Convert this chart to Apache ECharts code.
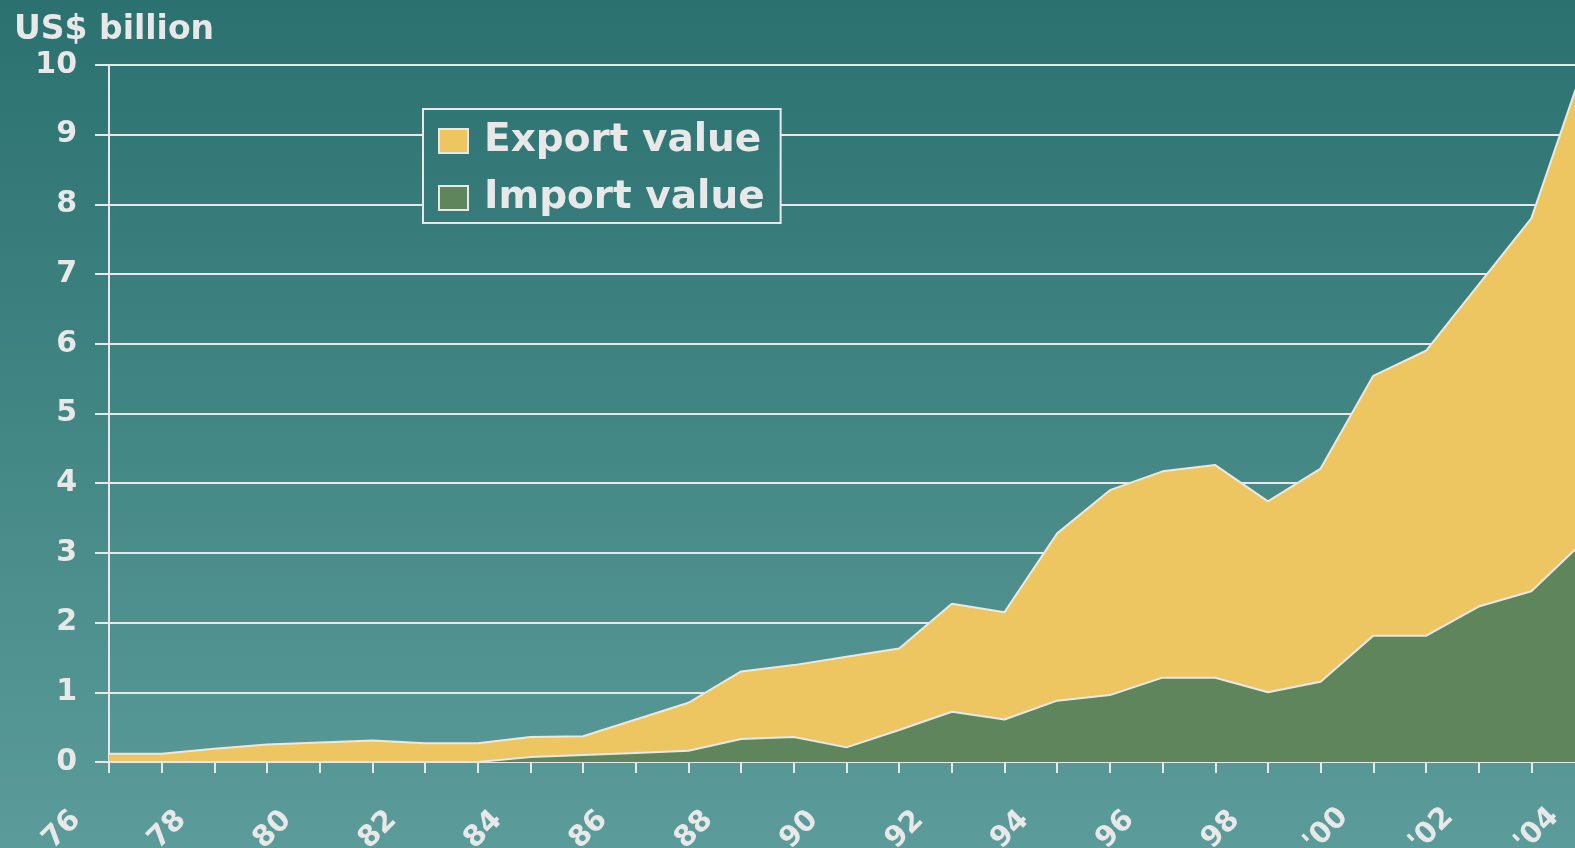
<!DOCTYPE html>
<html>
<head>
<meta charset="utf-8">
<script src="https://cdn.jsdelivr.net/npm/echarts@6/dist/echarts.min.js"></script>
<style>
html,body{margin:0;padding:0;background:#2A716F;}
#c{width:1575px;height:848px;}
</style>
</head>
<body>
<div id="c"></div>
<script>
// Categories (years 1976-2004), shown as axis tick labels
const years = ['76','77','78','79','80','81','82','83','84','85','86','87','88','89','90',
  '91','92','93','94','95','96','97','98','99',"'00","'01","'02","'03","'04"];

// US$ billion (stacked: import at bottom, export on top)
const importValue = [0, 0, 0, 0, 0, 0, 0, 0, 0.07, 0.10, 0.13, 0.16, 0.33, 0.36, 0.21,
  0.46, 0.72, 0.61, 0.88, 0.96, 1.21, 1.21, 1.00, 1.15, 1.81, 1.81, 2.23, 2.45, 3.17];
const exportValue = [0.12, 0.12, 0.19, 0.25, 0.28, 0.31, 0.27, 0.27, 0.29, 0.27, 0.48, 0.69, 0.97, 1.03, 1.30,
  1.17, 1.55, 1.54, 2.40, 2.94, 2.96, 3.05, 2.74, 3.06, 3.73, 4.09, 4.62, 5.35, 6.83];

const seriesNames = ['Export value', 'Import value'];
const unitTitle = 'US$ billion';
const yMin = 0, yMax = 10, yStep = 1;

const TXT = '#e8e8e8';
const FONT = 'DejaVu Sans';

const chart = echarts.init(document.getElementById('c'), null, {renderer: 'canvas'});
chart.setOption({
  animation: false,
  backgroundColor: {
    type: 'linear', x: 0, y: 0, x2: 0, y2: 1,
    colorStops: [{offset: 0, color: '#2A716F'}, {offset: 1, color: '#5B9C9A'}]
  },
  title: {
    text: unitTitle,
    left: 9, top: 9,
    textStyle: {color: TXT, fontFamily: FONT, fontWeight: 'bold', fontSize: 33}
  },
  legend: {
    data: seriesNames,
    orient: 'vertical',
    left: 423, top: 109,
    padding: [12, 16, 5, 15],
    itemGap: 17,
    itemWidth: 29, itemHeight: 24,
    icon: 'rect',
    borderColor: TXT, borderWidth: 2, borderRadius: 0,
    backgroundColor: {
      type: 'linear', x: 0, y: 0, x2: 0, y2: 1,
      colorStops: [{offset: 0, color: 'rgb(48,118,116)'}, {offset: 1, color: 'rgb(55,124,122)'}]
    },
    itemStyle: {borderColor: TXT, borderWidth: 2},
    textStyle: {color: TXT, fontFamily: FONT, fontWeight: 'bold', fontSize: 39, lineHeight: 40, padding: [0, 0, 0, 11]}
  },
  grid: {left: 109, width: 1475, top: 65, height: 697, outerBoundsMode: 'none', containLabel: false},
  xAxis: {
    type: 'category',
    data: years,
    boundaryGap: false,
    axisLine: {show: true, lineStyle: {color: TXT, width: 2}},
    axisTick: {show: true, interval: 0, length: 11, inside: false, lineStyle: {color: TXT, width: 2}},
    axisLabel: {
      interval: 1,
      rotate: 45,
      align: 'center',
      verticalAlign: 'middle',
      padding: [0, 133, 0, 0],
      margin: 21,
      color: TXT, fontFamily: FONT, fontWeight: 'bold', fontSize: 29
    },
    splitLine: {show: false}
  },
  yAxis: {
    type: 'value',
    min: yMin, max: yMax, interval: yStep,
    axisLine: {show: true, lineStyle: {color: TXT, width: 2}},
    axisTick: {show: true, length: 14, lineStyle: {color: TXT, width: 2}},
    axisLabel: {margin: 32, color: TXT, fontFamily: FONT, fontWeight: 'bold', fontSize: 30},
    splitLine: {show: true, lineStyle: {color: TXT, width: 2}}
  },
  series: [
    {
      name: seriesNames[1],
      type: 'line',
      stack: 'total',
      data: importValue,
      z: 3,
      showSymbol: false,
      symbol: 'none',
      itemStyle: {color: '#5F855D'},
      lineStyle: {color: TXT, width: 2},
      areaStyle: {color: '#5F855D', opacity: 1}
    },
    {
      name: seriesNames[0],
      type: 'line',
      stack: 'total',
      data: exportValue,
      z: 2,
      showSymbol: false,
      symbol: 'none',
      itemStyle: {color: '#EDC661'},
      lineStyle: {color: TXT, width: 2},
      areaStyle: {color: '#EDC661', opacity: 1}
    }
  ]
});
</script>
</body>
</html>
